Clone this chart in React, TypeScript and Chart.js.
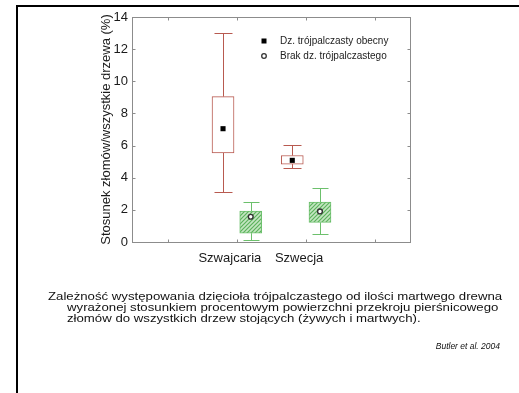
import React, { useEffect, useRef } from 'react';
import { Chart, registerables } from 'chart.js';

Chart.register(...registerables);

// ---- data ----
const categories = ['Szwajcaria', 'Szwecja'];
const categoryPos = [3, 5];
const xTickMarks = [1, 3, 5, 7];
const yTickMarks = [2, 4, 6, 8, 10, 12];
const seriesNames = ['Dz. trójpalczasty obecny', 'Brak dz. trójpalczastego'];

const presentMean = [7.05, 5.08];
const presentQ1 = [5.55, 4.85];
const presentQ3 = [9.05, 5.38];
const presentMin = [3.1, 4.62];
const presentMax = [13.0, 6.05];

const absentMean = [1.57, 1.9];
const absentQ1 = [0.55, 1.22];
const absentQ3 = [1.92, 2.48];
const absentMin = [0.12, 0.48];
const absentMax = [2.47, 3.36];

const yTitle = 'Stosunek złomów/wszystkie drzewa (%)';
const captionLines = [
  'Zależność występowania dzięcioła trójpalczastego od ilości martwego drewna',
  'wyrażonej stosunkiem procentowym powierzchni przekroju pierśnicowego',
  'złomów do wszystkich drzew stojących (żywych i martwych).',
];
const citation = 'Butler et al. 2004';

// ---- styles ----
const RED = '#b85a50';
const GREEN = '#6cc06c';
const FRAME = '#8c8c8c';
const OFFSET = 0.4;
const FONT = '"Liberation Sans", Arial, sans-serif';

function makeHatch(): CanvasPattern | string {
  const c = document.createElement('canvas');
  c.width = 4;
  c.height = 4;
  const g = c.getContext('2d');
  if (!g) return '#a8d8a8';
  g.fillStyle = '#c4e6c2';
  g.fillRect(0, 0, 4, 4);
  g.strokeStyle = '#5cb25c';
  g.lineWidth = 1.2;
  g.beginPath();
  g.moveTo(-1, 5);
  g.lineTo(5, -1);
  g.moveTo(-1, 1);
  g.lineTo(1, -1);
  g.moveTo(3, 5);
  g.lineTo(5, 3);
  g.stroke();
  const p = g.createPattern(c, 'repeat');
  return p || '#a8d8a8';
}

const groups = [
  { color: RED, offset: -OFFSET, min: presentMin, max: presentMax, q1: presentQ1, q3: presentQ3, cap: 9 },
  { color: GREEN, offset: OFFSET, min: absentMin, max: absentMax, q1: absentQ1, q3: absentQ3, cap: 8 },
];

const whiskerPlugin = {
  id: 'whiskers',
  beforeDatasetsDraw(chart: any) {
    const { ctx } = chart;
    const xs = chart.scales.x;
    const ys = chart.scales.y;
    ctx.save();
    ctx.lineWidth = 1;
    groups.forEach((g) => {
      ctx.strokeStyle = g.color;
      categoryPos.forEach((cp, i) => {
        const x = Math.round(xs.getPixelForValue(cp + g.offset)) + 0.5;
        const yMax = Math.round(ys.getPixelForValue(g.max[i])) + 0.5;
        const yMin = Math.round(ys.getPixelForValue(g.min[i])) + 0.5;
        const yQ3 = ys.getPixelForValue(g.q3[i]);
        const yQ1 = ys.getPixelForValue(g.q1[i]);
        ctx.beginPath();
        ctx.moveTo(x, yMax);
        ctx.lineTo(x, yQ3);
        ctx.moveTo(x, yQ1);
        ctx.lineTo(x, yMin);
        ctx.moveTo(x - g.cap, yMax);
        ctx.lineTo(x + g.cap, yMax);
        ctx.moveTo(x - g.cap, yMin);
        ctx.lineTo(x + g.cap, yMin);
        ctx.stroke();
      });
    });
    ctx.restore();
  },
  afterDraw(chart: any) {
    const { ctx, chartArea } = chart;
    const xs = chart.scales.x;
    const ys = chart.scales.y;
    const l = Math.round(chartArea.left) - 0.5;
    const r = Math.round(chartArea.right) + 0.5;
    const t = Math.round(chartArea.top) + 0.5;
    const b = Math.round(chartArea.bottom) + 0.5;
    ctx.save();
    ctx.strokeStyle = FRAME;
    ctx.lineWidth = 1;
    ctx.strokeRect(l, t, r - l, b - t);
    ctx.beginPath();
    xTickMarks.forEach((v) => {
      const x = Math.round(xs.getPixelForValue(v)) + 0.5;
      ctx.moveTo(x, b);
      ctx.lineTo(x, b - 3);
      ctx.moveTo(x, t);
      ctx.lineTo(x, t + 3);
    });
    yTickMarks.forEach((v) => {
      const y = Math.round(ys.getPixelForValue(v)) + 0.5;
      ctx.moveTo(l, y);
      ctx.lineTo(l + 3, y);
      ctx.moveTo(r, y);
      ctx.lineTo(r - 3, y);
    });
    ctx.stroke();

    // legend
    const lx = 264;
    const ly = [41, 56];
    ctx.fillStyle = '#000';
    ctx.fillRect(lx - 2.5, ly[0] - 2.5, 5, 5);
    ctx.beginPath();
    ctx.arc(lx, ly[1], 2.3, 0, Math.PI * 2);
    ctx.fillStyle = '#fff';
    ctx.fill();
    ctx.lineWidth = 1.3;
    ctx.strokeStyle = '#333';
    ctx.stroke();
    ctx.fillStyle = '#222';
    ctx.font = `10px ${FONT}`;
    ctx.textBaseline = 'middle';
    ctx.textAlign = 'left';
    seriesNames.forEach((n, i) => ctx.fillText(n, 280, ly[i]));
    ctx.restore();
  },
};

export default function App() {
  const ref = useRef<HTMLCanvasElement | null>(null);

  useEffect(() => {
    if (!ref.current) return;
    const hatch = makeHatch();
    const chart = new Chart(ref.current, {
      type: 'bar',
      data: {
        datasets: [
          {
            type: 'scatter',
            label: seriesNames[0],
            data: categoryPos.map((c, i) => ({ x: c - OFFSET, y: presentMean[i] })),
            pointStyle: 'rect',
            pointRadius: 3.6,
            backgroundColor: '#000',
            borderWidth: 0,
            order: 0,
          } as any,
          {
            type: 'scatter',
            label: seriesNames[1],
            data: categoryPos.map((c, i) => ({ x: c + OFFSET, y: absentMean[i] })),
            pointStyle: 'circle',
            pointRadius: 2.4,
            backgroundColor: '#fff',
            borderColor: '#333',
            borderWidth: 1.4,
            order: 0,
          } as any,
          {
            type: 'bar',
            label: seriesNames[0] + ' box',
            data: categoryPos.map((c, i) => ({ x: c - OFFSET, y: [presentQ1[i], presentQ3[i]] })),
            backgroundColor: '#fff',
            borderColor: RED,
            borderWidth: 1,
            borderSkipped: false,
            barThickness: 22,
            grouped: false,
            order: 1,
          } as any,
          {
            type: 'bar',
            label: seriesNames[1] + ' box',
            data: categoryPos.map((c, i) => ({ x: c + OFFSET, y: [absentQ1[i], absentQ3[i]] })),
            backgroundColor: hatch,
            borderColor: GREEN,
            borderWidth: 1,
            borderSkipped: false,
            barThickness: 22,
            grouped: false,
            order: 1,
          } as any,
        ],
      },
      options: {
        animation: false,
        responsive: false,
        events: [],
        layout: { padding: { top: 17, right: 109, left: 0, bottom: 0 } },
        plugins: {
          legend: { display: false },
          tooltip: { enabled: false },
        },
        scales: {
          x: {
            type: 'linear',
            min: 0,
            max: 8,
            offset: false,
            grid: { display: false, drawTicks: false },
            border: { display: false },
            afterBuildTicks: (scale: any) => {
              scale.ticks = categoryPos.map((v) => ({ value: v }));
            },
            afterFit: (scale: any) => {
              scale.height = 151;
            },
            ticks: {
              autoSkip: false,
              maxRotation: 0,
              padding: 9,
              labelOffset: -7,
              color: '#1a1a1a',
              font: { family: FONT, size: 13 },
              callback: (_v: any, i: number) => categories[i],
            },
          },
          y: {
            type: 'linear',
            min: 0,
            max: 14,
            grid: { display: false, drawTicks: false },
            border: { display: false },
            afterFit: (scale: any) => {
              scale.width = 133;
            },
            ticks: {
              stepSize: 2,
              padding: 5,
              color: '#1a1a1a',
              font: { family: FONT, size: 13 },
            },
            title: {
              display: true,
              text: yTitle,
              color: '#1a1a1a',
              font: { family: FONT, size: 13 },
              padding: { top: 99, bottom: 0 },
            },
          },
        },
      },
      plugins: [whiskerPlugin],
    });
    return () => chart.destroy();
  }, []);

  const textStyle: React.CSSProperties = {
    position: 'absolute',
    fontFamily: FONT,
    fontSize: '11px',
    lineHeight: '11px',
    color: '#111',
    whiteSpace: 'nowrap',
    transformOrigin: 'left top',
    transform: 'scaleX(1.2)',
  };

  return (
    <div style={{ position: 'fixed', left: 0, top: 0, width: 519, height: 393, background: '#fff', overflow: 'hidden' }}>
      <canvas ref={ref} width={519} height={393} style={{ position: 'absolute', left: 0, top: 0, width: 519, height: 393 }} />
      <div style={{ position: 'absolute', left: 16, top: 5, width: 503, height: 2, background: '#000' }} />
      <div style={{ position: 'absolute', left: 16, top: 5, width: 2, height: 388, background: '#000' }} />
      <div style={{ ...textStyle, left: 48, top: 291 }}>{captionLines[0]}</div>
      <div style={{ ...textStyle, left: 67, top: 302 }}>{captionLines[1]}</div>
      <div style={{ ...textStyle, left: 67, top: 313 }}>{captionLines[2]}</div>
      <div
        style={{
          position: 'absolute',
          right: 19,
          top: 341,
          fontFamily: FONT,
          fontSize: '8.5px',
          lineHeight: '10px',
          fontStyle: 'italic',
          color: '#111',
          whiteSpace: 'nowrap',
        }}
      >
        {citation}
      </div>
    </div>
  );
}
